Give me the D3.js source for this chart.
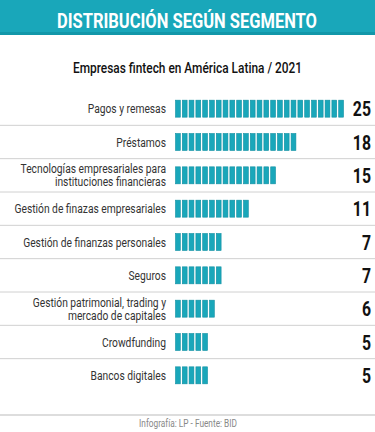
<!DOCTYPE html>
<html>
<head>
<meta charset="utf-8">
<script src="https://cdn.jsdelivr.net/npm/d3@7"></script>
<style>
  body { margin: 0; background: #fff; }
  svg { display: block; font-family: Roboto, "Noto Sans", sans-serif; }
</style>
</head>
<body>
<div id="container"></div>
<script>
/* CONSTANTS AND GLOBALS */
const width = 375;
const height = 432;
const margin = { top: 92, bottom: 40, left: 175, right: 30 };
// no condensed font installed, so texts get squeezed horizontally
const squeeze = 0.79;

/* DATA */
const segments = [
  ["Pagos y remesas"],
  ["Préstamos"],
  ["Tecnologías empresariales para", "instituciones financieras"],
  ["Gestión de finazas empresariales"],
  ["Gestión de finanzas personales"],
  ["Seguros"],
  ["Gestión patrimonial, trading y", "mercado de capitales"],
  ["Crowdfunding"],
  ["Bancos digitales"]
];
const companies = [25, 18, 15, 11, 7, 7, 6, 5, 5];

const teal = "#19a7ba";

/* SCALES */
const yScale = d3.scaleBand()
  .domain(d3.range(segments.length))
  .range([margin.top, height - margin.bottom])

const xScale = d3.scaleLinear()
  .domain([0, 25])
  .range([margin.left, width - margin.right])

const svg = d3.select("#container")
  .append("svg")
  .attr("width", width)
  .attr("height", height)

/* HEADER */
svg.append("rect")
  .attr("width", width).attr("height", 35)
  .attr("fill", teal)
svg.append("rect")
  .attr("y", 32).attr("width", width).attr("height", 3)
  .attr("fill", "#1297a9")

svg.append("text")
  .attr("x", 57).attr("y", 28)
  .attr("textLength", 260)
  .attr("lengthAdjust", "spacingAndGlyphs")
  .attr("fill", "#fff")
  .style("font-size", "21px").style("font-weight", "bold")
  .text("DISTRIBUCIÓN SEGÚN SEGMENTO")

svg.append("text")
  .attr("x", 73).attr("y", 73)
  .attr("textLength", 229)
  .attr("lengthAdjust", "spacingAndGlyphs")
  .attr("fill", "#111")
  .style("font-size", "14.5px").style("font-weight", 500)
  .text("Empresas fintech en América Latina / 2021")

/* ROW SEPARATORS */
svg.selectAll("line.sep")
  .data(d3.range(1, segments.length))
  .join("line")
  .attr("class", "sep")
  .attr("x1", 0).attr("x2", width)
  .attr("y1", i => yScale(i)).attr("y2", i => yScale(i))
  .attr("stroke", "#d0d0d0")

svg.append("line")
  .attr("x1", 0).attr("x2", width)
  .attr("y1", 415).attr("y2", 415)
  .attr("stroke", "#bbb")

/* ROWS */
const rows = svg.selectAll("g.row")
  .data(companies)
  .join("g")
  .attr("class", "row")
  .attr("transform", (d, i) => `translate(0,${yScale(i) + yScale.bandwidth() / 2})`)

// unit blocks
rows.selectAll("rect")
  .data(d => d3.range(d))
  .join("rect")
  .attr("x", k => xScale(k) + 0.5)
  .attr("width", k => xScale(k + 1) - xScale(k) - 2)
  .attr("y", -8.5)
  .attr("height", 17)
  .attr("fill", teal)
  .attr("stroke", "#1190a2")
  .attr("stroke-width", 0.6)

// values
rows.append("g")
  .attr("transform", `translate(371,7.5) scale(${squeeze},1)`)
  .append("text")
  .attr("text-anchor", "end")
  .attr("fill", "#111")
  .style("font-size", "20px").style("font-weight", "bold")
  .text(d => d)

// category labels
rows.append("g")
  .attr("transform", `translate(166,0) scale(${squeeze},1)`)
  .append("text")
  .attr("text-anchor", "end")
  .attr("fill", "#333")
  .style("font-size", "13px")
  .each(function(d, i) {
    const lines = segments[i];
    d3.select(this).selectAll("tspan")
      .data(lines)
      .join("tspan")
      .attr("x", 0)
      .attr("y", (l, j) => 4.5 + (j - (lines.length - 1) / 2) * 13)
      .text(l => l)
  })

/* FOOTER */
svg.append("g")
  .attr("transform", `translate(188,427) scale(${squeeze},1)`)
  .append("text")
  .attr("text-anchor", "middle")
  .attr("fill", "#888")
  .style("font-size", "10.5px")
  .text("Infografía: LP - Fuente: BID")
</script>
</body>
</html>
